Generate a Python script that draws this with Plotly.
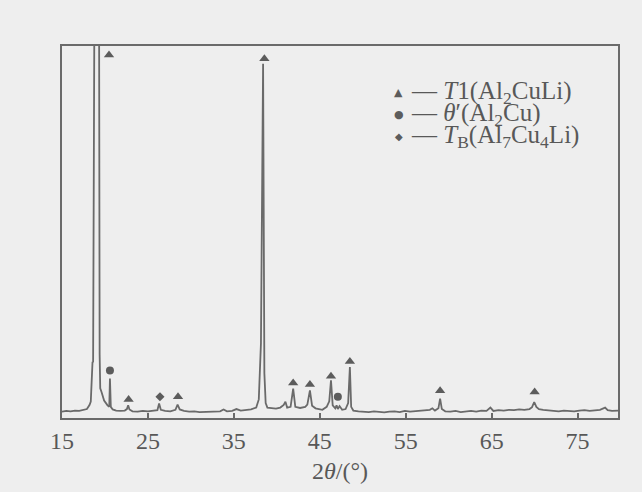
import plotly.graph_objects as go

# ---- data ----
two_theta = [15.0, 15.5, 16.0, 16.5, 17.0, 17.5, 17.9, 18.2, 18.35, 18.55, 18.62, 18.8, 19.3, 19.38,
             19.45, 19.6, 19.9, 20.3, 20.5, 20.58, 20.68, 20.9, 21.3, 21.8, 22.3, 22.55, 22.7, 22.85,
             23.2, 23.8, 24.4, 25.0, 25.6, 26.1, 26.3, 26.5, 27.0, 27.6, 28.2, 28.45, 28.7, 29.2,
             29.8, 30.4, 31.0, 31.6, 32.2, 32.8, 33.4, 33.8, 34.2, 34.8, 35.3, 35.8, 36.4, 37.0,
             37.6, 37.9, 38.15, 38.4, 38.55, 38.7, 38.9, 39.4, 39.9, 40.4, 40.8, 41.0, 41.2, 41.6,
             41.9, 42.15, 42.7, 43.3, 43.55, 43.85, 44.1, 44.5, 44.9, 45.3, 45.8, 46.1, 46.3, 46.5,
             46.8, 46.95, 47.1, 47.3, 47.6, 48.0, 48.3, 48.5, 48.65, 48.9, 49.5, 50.1, 50.7, 51.3,
             51.9, 52.5, 53.1, 53.7, 54.3, 54.9, 55.5, 56.1, 56.7, 57.3, 57.8, 58.1, 58.4, 58.8,
             59.0, 59.2, 59.6, 60.2, 60.8, 61.4, 62.0, 62.6, 63.2, 63.8, 64.4, 64.85, 65.2, 65.8,
             66.4, 67.0, 67.6, 68.2, 68.8, 69.4, 69.7, 69.95, 70.2, 70.5, 71.0, 71.6, 72.2, 72.8,
             73.4, 74.0, 74.6, 75.2, 75.8, 76.4, 77.0, 77.6, 78.2, 78.5, 79.0, 79.7]
intensity = [1.7, 1.9, 1.8, 2.0, 1.9, 2.1, 2.4, 3.5, 4.4, 15.0, 15.1, 130.0, 130.0, 17.0,
             8.0, 7.0, 4.7, 3.4, 3.0, 10.6, 3.0, 2.3, 2.0, 1.9, 2.0, 2.4, 3.4, 2.3,
             1.8, 1.7, 1.9, 1.8, 1.9, 2.1, 3.9, 2.2, 1.9, 1.8, 2.2, 3.6, 2.3, 1.9,
             1.7, 1.8, 1.6, 1.7, 1.6, 1.7, 1.8, 2.3, 1.8, 1.9, 2.4, 2.0, 2.1, 2.3,
             2.8, 5.0, 20.0, 95.2, 12.0, 4.0, 2.8, 2.6, 2.5, 2.8, 3.5, 4.4, 2.8, 3.0,
             7.9, 3.0, 2.7, 3.0, 3.6, 7.4, 3.3, 2.6, 2.5, 2.2, 3.0, 4.5, 10.1, 3.4,
             2.6, 3.4, 2.4, 3.2, 2.2, 2.4, 4.0, 13.7, 3.0, 2.0, 1.8, 1.7, 1.6, 1.8,
             1.7, 1.5, 1.7, 1.8, 1.6, 1.9, 1.7, 1.8, 1.9, 2.0, 2.2, 2.6, 2.0, 2.6,
             5.2, 2.4, 1.8, 1.7, 1.9, 1.6, 1.8, 1.9, 1.7, 2.0, 1.9, 2.8, 1.9, 2.1,
             2.0, 2.2, 2.1, 2.3, 2.2, 2.4, 2.9, 4.3, 3.0, 2.4, 2.2, 2.1, 2.0, 1.8,
             2.0, 1.9, 1.8, 2.0, 2.1, 1.9, 2.1, 2.2, 2.8, 2.1, 1.9, 2.0]

t1_x = [20.47, 22.75, 28.5, 38.55, 41.9, 43.85, 46.3, 48.5, 59.0, 70.0]
t1_y = [97.6, 5.0, 5.7, 96.6, 9.4, 9.0, 11.2, 15.2, 7.3, 7.0]
theta_x = [20.58, 47.1]
theta_y = [12.8, 5.7]
tb_x = [26.4]
tb_y = [5.7]

x_ticks = [15, 25, 35, 45, 55, 65, 75]

legend_labels = ["<i>T</i>1(Al<sub>2</sub>CuLi)",
                 "<i>θ</i>′(Al<sub>2</sub>Cu)",
                 "<i>T</i><sub>B</sub>(Al<sub>7</sub>Cu<sub>4</sub>Li)"]
legend_symbols = ["▲", "●", "◆"]

# ---- styling ----
W, H = 642, 492
L, R, T, B = 62, 618, 46, 420
LINE = "#6a6a6a"
MARK = "#5c5c5c"
TXT = "#585858"
BG = "#eeeeee"
SERIF = "Liberation Serif, Times New Roman, serif"


def px(x):
    return (x - L) / (R - L)


def py(y):
    return (B - y) / (B - T)


fig = go.Figure()
fig.add_trace(go.Scatter(x=two_theta, y=intensity, mode="lines",
                         line=dict(color=LINE, width=1.8), showlegend=False,
                         hoverinfo="skip"))
fig.add_trace(go.Scatter(x=t1_x, y=t1_y, mode="markers",
                         marker=dict(symbol="triangle-up", size=9, color=MARK),
                         showlegend=False))
fig.add_trace(go.Scatter(x=theta_x, y=theta_y, mode="markers",
                         marker=dict(symbol="circle", size=8, color=MARK),
                         showlegend=False))
fig.add_trace(go.Scatter(x=tb_x, y=tb_y, mode="markers",
                         marker=dict(symbol="diamond", size=7, color=MARK),
                         showlegend=False))

rows_y = [93, 115, 137]
sym_sizes = [11, 11, 10]
annotations = []
for lab, sym, ry, ss in zip(legend_labels, legend_symbols, rows_y, sym_sizes):
    annotations.append(dict(xref="paper", yref="paper", x=px(398.5), y=py(ry),
                            text=sym, showarrow=False, xanchor="center", yanchor="middle",
                            font=dict(family="DejaVu Sans", size=ss, color=MARK)))
    annotations.append(dict(xref="paper", yref="paper", x=px(409), y=py(ry),
                            text="— " + lab, showarrow=False, xanchor="left", yanchor="middle",
                            font=dict(family=SERIF, size=25, color=TXT)))

fig.update_layout(
    width=W, height=H,
    margin=dict(l=L, r=W - R, t=T, b=H - B, pad=0),
    paper_bgcolor=BG, plot_bgcolor=BG,
    font=dict(family=SERIF, color=TXT),
    annotations=annotations,
    xaxis=dict(range=[15, 79.7], tickvals=x_ticks, ticktext=[str(v) for v in x_ticks],
               ticks="inside", ticklen=5, tickwidth=1.5, tickcolor=LINE,
               showline=True, mirror=True, linecolor=LINE, linewidth=2,
               showgrid=False, zeroline=False,
               tickfont=dict(family=SERIF, size=24, color=TXT),
               title=dict(text="2<i>θ</i>/(°)", font=dict(family=SERIF, size=24, color=TXT),
                          standoff=9)),
    yaxis=dict(range=[0, 100], showticklabels=False, ticks="",
               showline=True, mirror=True, linecolor=LINE, linewidth=2,
               showgrid=False, zeroline=False),
)

fig.write_html("out.html")
